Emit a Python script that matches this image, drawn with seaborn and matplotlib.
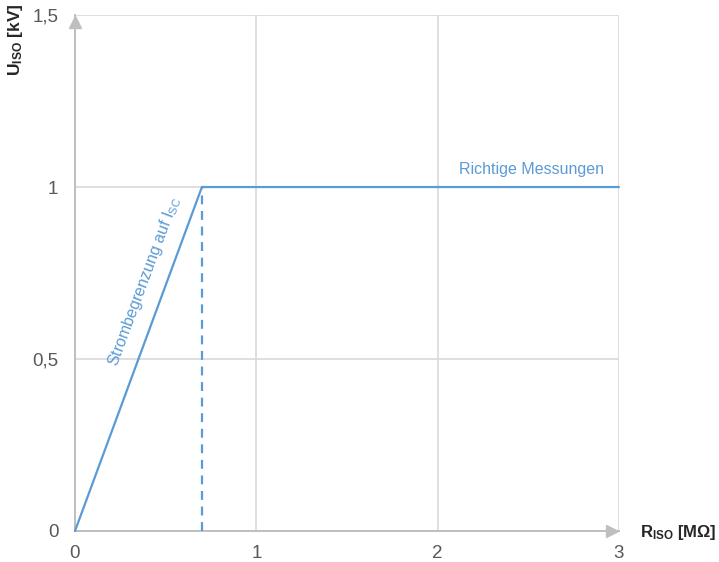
import matplotlib
matplotlib.use('Agg')
from matplotlib import pyplot as plt
from matplotlib.transforms import offset_copy
import pandas as pd
import seaborn as sns

# curve: current limited ramp, then correct measurement plateau
r_iso = [0, 0.7, 3]
u_iso = [0, 1, 1]
# dashed marker at the knee
knee_r = [0.7, 0.7]
knee_u = [0, 1]
x_ticks = [0, 1, 2, 3]
x_labels = ['0', '1', '2', '3']
y_ticks = [0, 0.5, 1, 1.5]
y_labels = ['0', '0,5', '1', '1,5']

blue = '#5b9bd5'
grid_c = '#d9d9d9'
axis_c = '#bfbfbf'
tick_c = '#595959'

sns.set_style('white')
plt.rcParams['font.family'] = ['Liberation Sans', 'DejaVu Sans']
plt.rcParams['mathtext.fontset'] = 'custom'
plt.rcParams['mathtext.rm'] = 'Liberation Sans'
plt.rcParams['mathtext.bf'] = 'Liberation Sans:bold'
plt.rcParams['mathtext.it'] = 'Liberation Sans'

fig = plt.figure(figsize=(7.19, 5.62), dpi=100)
ax = fig.add_axes([0.1043, 0.0552, 0.7566, 0.918])

curve = pd.DataFrame({'R': r_iso, 'U': u_iso})
knee = pd.DataFrame({'R': knee_r, 'U': knee_u})
sns.lineplot(data=curve, x='R', y='U', ax=ax, color=blue, linewidth=1.6,
             estimator=None, sort=False, clip_on=False, zorder=3)
sns.lineplot(data=knee, x='R', y='U', ax=ax, color=blue, linewidth=1.6,
             estimator=None, sort=False, linestyle=(0, (4, 3)), zorder=3)

ax.set_xlim(0, 3)
ax.set_ylim(0, 1.5)
ax.set_xticks(x_ticks, x_labels)
ax.set_yticks(y_ticks, y_labels)
ax.tick_params(length=0, labelsize=13.5, labelcolor=tick_c)
ax.tick_params(axis='x', pad=10)
ax.tick_params(axis='y', pad=12)
ax.grid(True, color=grid_c, linewidth=1.2)
ax.set_axisbelow(True)
for side in ['top', 'right']:
    ax.spines[side].set_visible(False)
for side in ['left', 'bottom']:
    ax.spines[side].set_color(axis_c)
    ax.spines[side].set_linewidth(1.4)

# arrow heads on axes, tips at the axis ends
ax.plot([0], [1.0], marker='^', markersize=8, color=axis_c,
        transform=offset_copy(ax.transAxes, fig=fig, y=-5, units='points'),
        clip_on=False, zorder=4)
ax.plot([1.0], [0], marker='>', markersize=8, color=axis_c,
        transform=offset_copy(ax.transAxes, fig=fig, x=-5, units='points'),
        clip_on=False, zorder=4)

ax.set_xlabel('')
ax.set_ylabel('')
fig.text(0.022, 0.995, r'$\mathbf{U_{ISO}}$ [kV]', rotation=90, ha='center', va='top',
         fontsize=12.5, fontweight='bold', color='#262626')
fig.text(0.89, 0.052, r'$\mathbf{R_{ISO}}$ [MΩ]', ha='left', va='center',
         fontsize=12, fontweight='bold', color='#262626')

ax.text(2.92, 1.03, 'Richtige Messungen', ha='right', va='bottom',
        fontsize=11.5, color=blue)
ax.text(0.385, 0.725, r'Strombegrenzung auf I$_{SC}$', rotation=69.6,
        rotation_mode='anchor', ha='center', va='center', fontsize=11.5, color=blue)

fig.savefig('out.png', dpi=100)
